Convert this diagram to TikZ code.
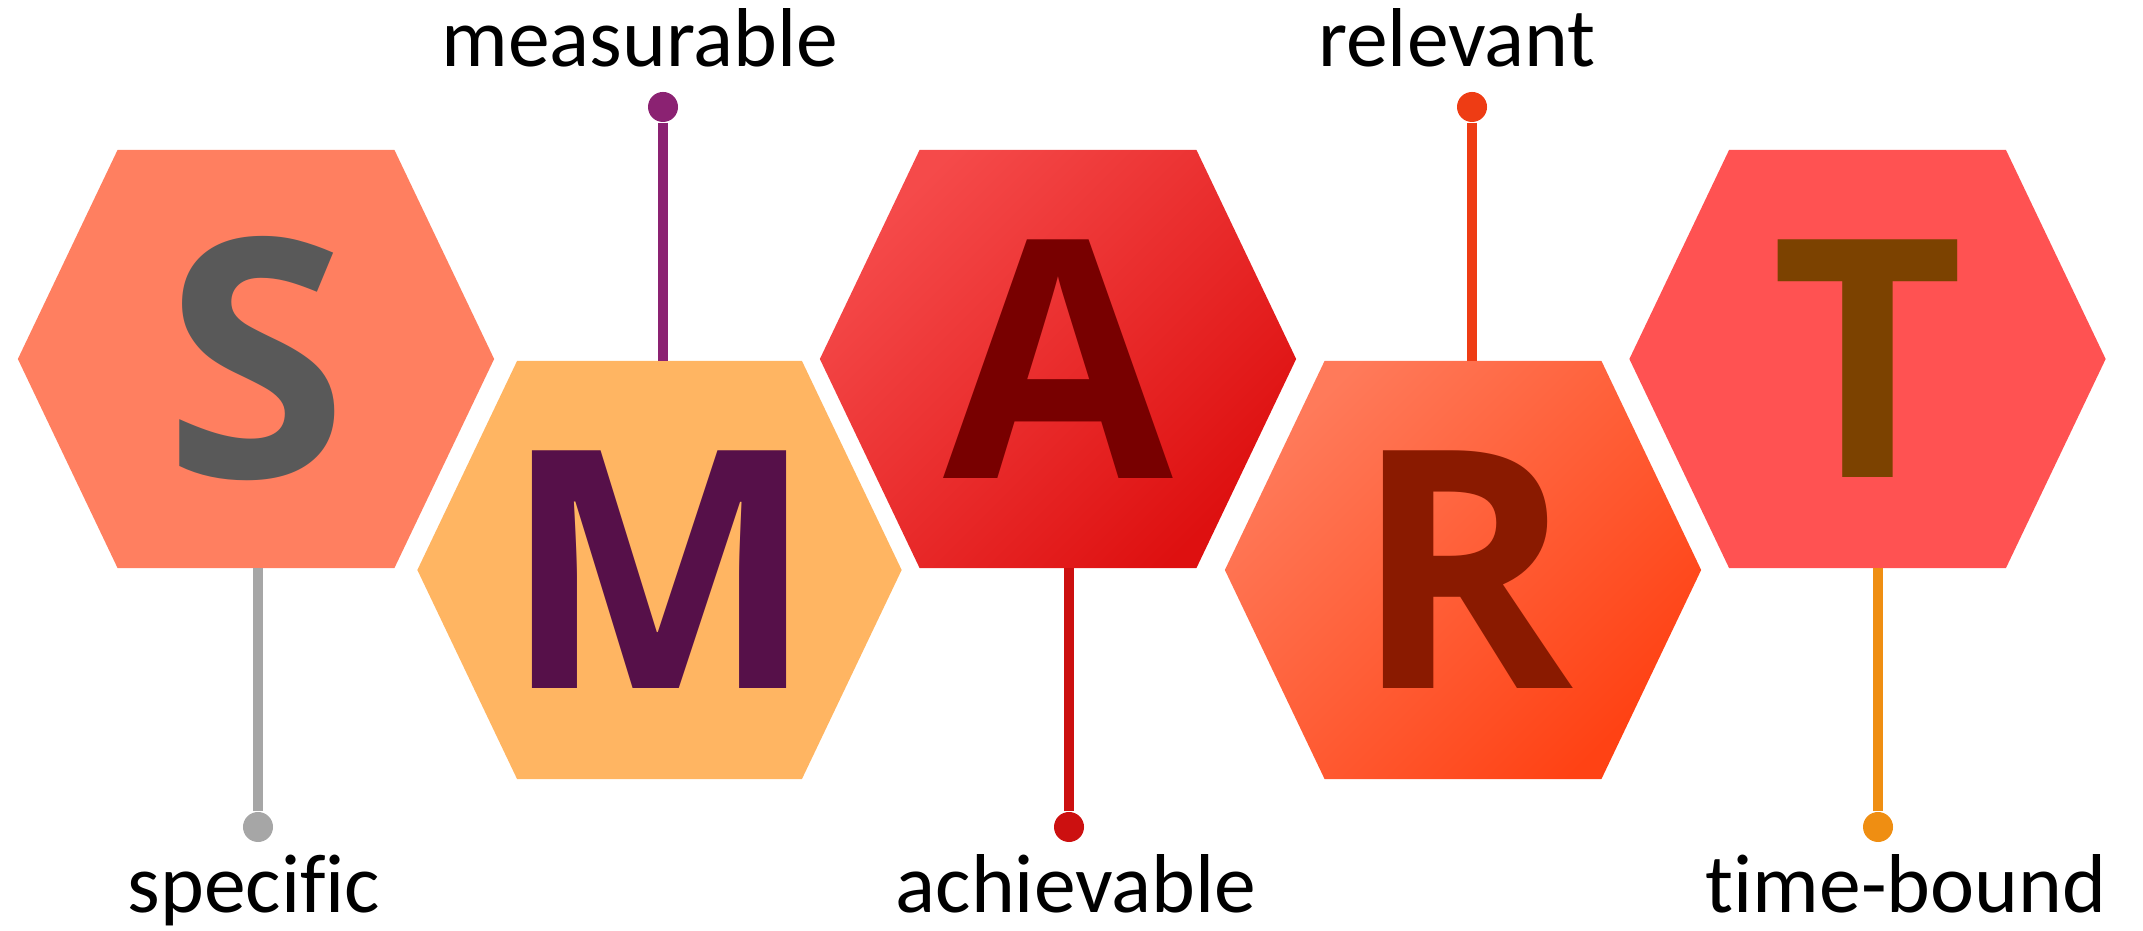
\documentclass[tikz,border=0pt]{standalone}
\usepackage{fontspec}
\setmainfont{Carlito}[Ligatures=CommonOff]
\newfontfamily\hexfont{Open Sans}
\usetikzlibrary{shapes.symbols,positioning}
\definecolor{sfill}{HTML}{FF7F60}
\definecolor{mfill}{HTML}{FFB562}
\definecolor{tfill}{HTML}{FF5252}
\definecolor{aleft}{HTML}{F54A4A}
\definecolor{aright}{HTML}{DE1010}
\definecolor{rleft}{HTML}{FF7A5A}
\definecolor{rright}{HTML}{FF4214}
\definecolor{sletter}{HTML}{595959}
\definecolor{mletter}{HTML}{561049}
\definecolor{aletter}{HTML}{780000}
\definecolor{rletter}{HTML}{8A1A00}
\definecolor{tletter}{HTML}{7C4200}
\definecolor{spin}{HTML}{A6A6A6}
\definecolor{mpin}{HTML}{8B2272}
\definecolor{apin}{HTML}{CC1010}
\definecolor{rpin}{HTML}{EE3C14}
\definecolor{tpin}{HTML}{EF8E12}
% letter must not widen the hexagon
\newcommand{\hexlet}[1]{\makebox[0pt]{#1}}

\begin{document}
\begin{tikzpicture}[x=0.01cm, y=0.01cm,
  hexa/.style={signal, signal to=east and west, signal pointer angle=129,
    minimum width=4.76cm, minimum height=4.18cm, inner sep=0pt, outer sep=0pt,
    font=\hexfont\bfseries\fontsize{94.7}{100}\selectfont},
  pin/.style={line width=2.6pt},
  dot/.style={circle, inner sep=0pt, minimum size=0.3cm},
  lbl/.style={anchor=base, font=\fontsize{23.75}{28}\selectfont}]

\path[use as bounding box] (0,0) rectangle (2143,931);

% the five hexagons
\node[hexa, fill=sfill, text=sletter] (hS) at (256,572) {\hexlet{S}};
\node[hexa, fill=mfill, text=mletter, minimum width=4.84cm] (hM) at (659.5,361) {\hexlet{M}};
\node[hexa, top color=aleft, bottom color=aright, shading angle=45, text=aletter] (hA) at (1058,572) {\hexlet{A}};
\node[hexa, top color=rleft, bottom color=rright, shading angle=45, text=rletter] (hR) at (1463,361) {\hexlet{R}};
\node[hexa, fill=tfill, text=tletter] (hT) at (1867.5,572) {\hexlet{T}};

% pins
\node[dot, fill=spin] (dS) at (258,104) {};
\node[dot, fill=mpin] (dM) at (663,824) {};
\node[dot, fill=apin] (dA) at (1069,104) {};
\node[dot, fill=rpin] (dR) at (1472,824) {};
\node[dot, fill=tpin] (dT) at (1878,104) {};

\draw[pin, spin] (dS) -- (dS |- hS.south);
\draw[pin, mpin] (dM) -- (dM |- hM.north);
\draw[pin, apin] (dA) -- (dA |- hA.south);
\draw[pin, rpin] (dR) -- (dR |- hR.north);
\draw[pin, tpin] (dT) -- (dT |- hT.south);

% labels
\node[lbl] (lS) at (254,18) {specific};
\node[lbl] (lM) at (640,864) {measurable};
\node[lbl] (lA) at (1076,18) {achievable};
\node[lbl] (lR) at (1457,864) {relevant};
\node[lbl] (lT) at (1906,18) {time-bound};
\end{tikzpicture}
\end{document}
